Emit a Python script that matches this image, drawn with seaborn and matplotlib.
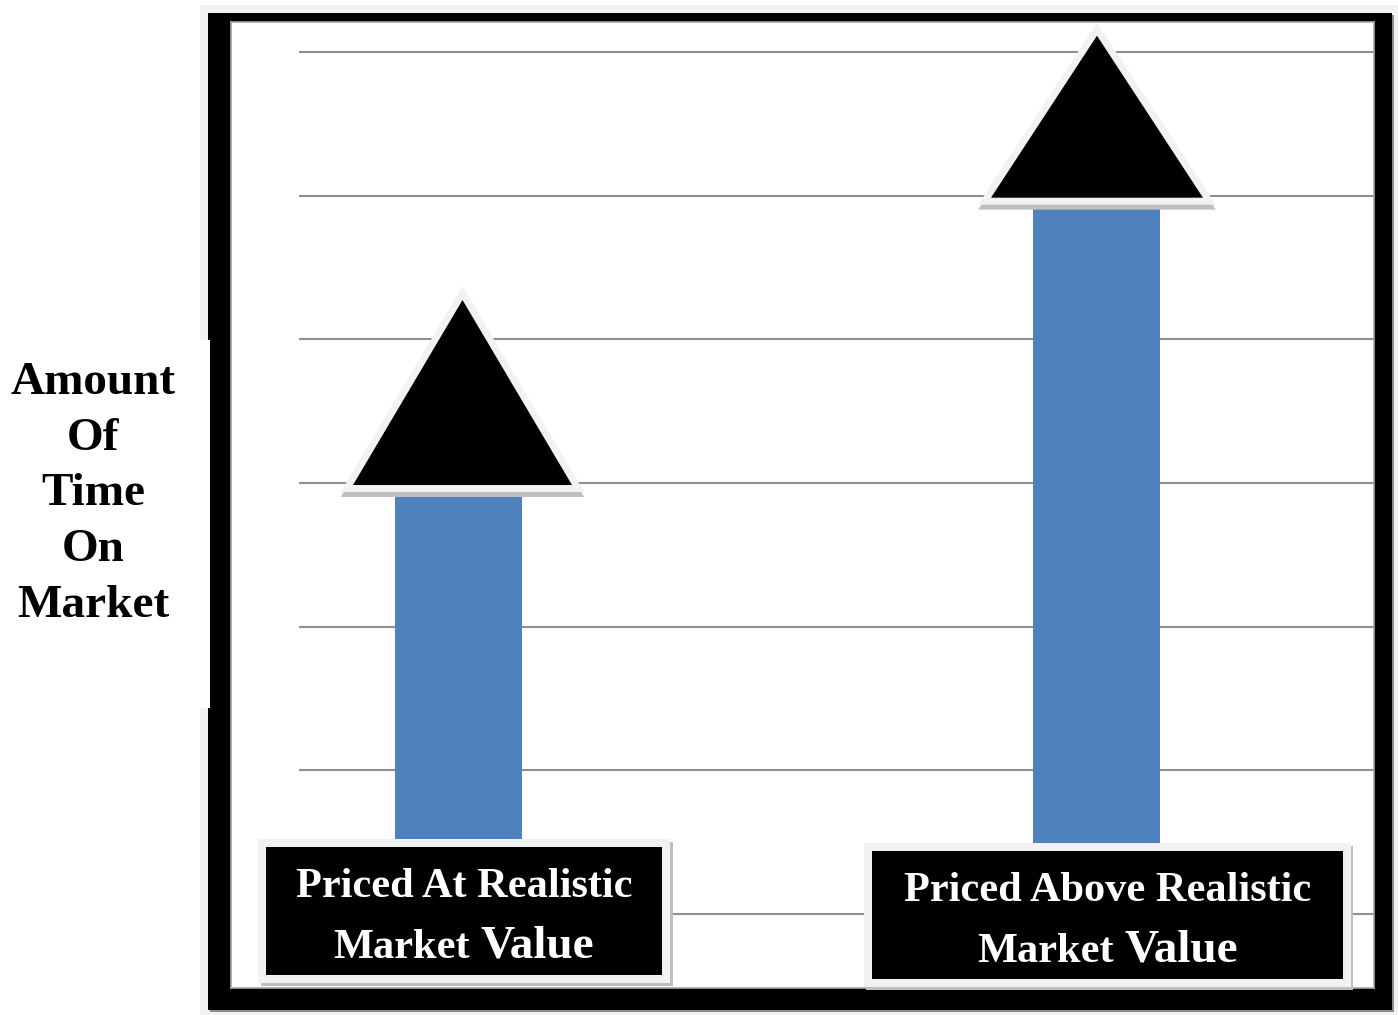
import matplotlib
matplotlib.use("Agg")
import matplotlib.pyplot as plt
import matplotlib.transforms as mtransforms
from matplotlib.patches import Rectangle, Polygon
import pandas as pd
import seaborn as sns

# ---- data -------------------------------------------------------------
categories = ["Priced At Realistic Market Value", "Priced Above Realistic Market Value"]
time_on_market = [3, 5]
label_line1 = ["Priced At Realistic", "Priced Above Realistic"]
label_line2_word1 = ["Market", "Market"]
label_line2_word2 = ["Value", "Value"]
y_label_lines = ["Amount", "Of", "Time", "On", "Market"]
grid_levels = [0, 1, 2, 3, 4, 5, 6]

# ---- style ------------------------------------------------------------
W, H, DPI = 1398, 1015, 100
BAR_BLUE = "#4F81BD"
LIGHT = "#F2F2F2"
SHADOW = "#BFBFBF"
GRID = "#8E8E8E"
BAR_WIDTH = 0.199
X_LIM = (-0.3566, 1.435)
Y_LIM = (-0.515, 6.209)
GRID_START = -0.25

# arrow heads (pixel sizes): half base width, height, horizontal nudge
TRI_HALF_PX = [109.5, 106.0]
TRI_HEIGHT_PX = [185.0, 162.0]
TRI_NUDGE_PX = [4.0, 0.5]
TRI_BASE_DROP_PX = 2.0

# label boxes (pixels relative to bar centre / zero line)
BOX_LEFT_PX = [-192.5, -224.5]
BOX_RIGHT_PX = [203.5, 246.5]
BOX_TOP_PX = [67.0, 63.0]
BOX_HEIGHT_PX = 128.0
BOX_RIM_PX = 8.0
LINE1_DROP_PX = 50.0
LINE2_DROP_PX = 110.5
LINE1_PT = 30.5
WORD1_PT = 30.5
WORD2_PT = 34.0

sns.set_style("white")
plt.rcParams["font.family"] = ["Liberation Serif", "DejaVu Serif"]

fig = plt.figure(figsize=(W / DPI, H / DPI), dpi=DPI)
fig.patch.set_facecolor("white")


def fx(x):
    return x / W


def fy(y):
    return 1 - y / H


def frame_rect(x0, y0, x1, y1, color, z):
    fig.add_artist(Rectangle((fx(x0), fy(y1)), fx(x1) - fx(x0), fy(y0) - fy(y1),
                             transform=fig.transFigure, facecolor=color,
                             edgecolor="none", zorder=z))


# outer frame
frame_rect(200, 5, 1398, 1015, LIGHT, -5)
frame_rect(210, 15, 1394, 1012, "#8C8C8C", -4)
frame_rect(208, 13, 1392, 1010, "black", -3)
frame_rect(195, 340, 210, 708, "white", -2)

ax = fig.add_axes([fx(231), fy(988), fx(1374) - fx(231), fy(22) - fy(988)])
ax.set_facecolor("white")

df = pd.DataFrame({"category": categories, "time_on_market": time_on_market})
sns.barplot(data=df, x="category", y="time_on_market", color=BAR_BLUE,
            saturation=1, width=BAR_WIDTH, linewidth=0, ax=ax, zorder=2)
ax.set_xlim(*X_LIM)
ax.set_ylim(*Y_LIM)
ax.hlines(grid_levels, GRID_START, X_LIM[1], color=GRID, lw=1.5, zorder=1)
ax.set_xticks([])
ax.set_yticks([])
ax.set_xlabel("")
ax.set_ylabel("")
for sp in ax.spines.values():
    sp.set_color("#A6A6A6")
    sp.set_linewidth(1.2)

p0 = ax.transData.transform((0, 0))
p1 = ax.transData.transform((1, 1))
px_x = p1[0] - p0[0]
px_y = p1[1] - p0[1]

# arrow heads on top of each bar
tri_shadow = mtransforms.offset_copy(ax.transData, fig=fig, x=0, y=-5, units="dots")
for i, v in enumerate(time_on_market):
    cx = i + TRI_NUDGE_PX[i] / px_x
    hw = TRI_HALF_PX[i] / px_x
    base = v - TRI_BASE_DROP_PX / px_y
    top = base + TRI_HEIGHT_PX[i] / px_y
    verts = [(cx - hw, base), (cx + hw, base), (cx, top)]
    ax.add_patch(Polygon(verts, closed=True, facecolor=SHADOW, edgecolor=SHADOW,
                         lw=10, joinstyle="miter", transform=tri_shadow,
                         zorder=3, clip_on=False))
    ax.add_patch(Polygon(verts, closed=True, facecolor=LIGHT, edgecolor=LIGHT,
                         lw=10, joinstyle="miter", zorder=3.1, clip_on=False))
    ax.add_patch(Polygon(verts, closed=True, facecolor="black", edgecolor="none",
                         lw=0, zorder=3.2, clip_on=False))

# category label boxes
box_shadow = mtransforms.offset_copy(ax.transData, fig=fig, x=2.5, y=-3, units="dots")
word_texts = []
for i in range(len(categories)):
    x0 = i + BOX_LEFT_PX[i] / px_x
    x1 = i + BOX_RIGHT_PX[i] / px_x
    ytop = BOX_TOP_PX[i] / px_y
    ybot = ytop - BOX_HEIGHT_PX / px_y
    rx = BOX_RIM_PX / px_x
    ry = BOX_RIM_PX / px_y
    for tr, col, z in ((box_shadow, SHADOW, 5), (ax.transData, LIGHT, 5.1)):
        ax.add_patch(Rectangle((x0 - rx, ybot - ry), (x1 - x0) + 2 * rx,
                               (ytop - ybot) + 2 * ry, facecolor=col,
                               edgecolor="none", transform=tr, zorder=z,
                               clip_on=False))
    ax.add_patch(Rectangle((x0, ybot), x1 - x0, ytop - ybot, facecolor="black",
                           edgecolor="none", zorder=5.2, clip_on=False))
    cx = (x0 + x1) / 2
    ax.text(cx, ytop - LINE1_DROP_PX / px_y, label_line1[i], ha="center",
            va="baseline", color="white", fontsize=LINE1_PT, fontweight="bold",
            zorder=6)
    y2 = ytop - LINE2_DROP_PX / px_y
    t1 = ax.text(cx, y2, label_line2_word1[i], ha="left", va="baseline",
                 color="white", fontsize=WORD1_PT, fontweight="bold", zorder=6)
    t2 = ax.text(cx, y2, label_line2_word2[i], ha="left", va="baseline",
                 color="white", fontsize=WORD2_PT, fontweight="bold", zorder=6)
    word_texts.append((cx, y2, t1, t2))

# centre the two-size second line of each label
fig.canvas.draw()
renderer = fig.canvas.get_renderer()
gap = 0.25 * WORD1_PT * DPI / 72
for cx, y2, t1, t2 in word_texts:
    w1 = t1.get_window_extent(renderer).width
    w2 = t2.get_window_extent(renderer).width
    cx_px = ax.transData.transform((cx, y2))[0]
    start = cx_px - (w1 + gap + w2) / 2
    inv = ax.transData.inverted()
    t1.set_x(inv.transform((start, 0))[0])
    t2.set_x(inv.transform((start + w1 + gap, 0))[0])

# vertical axis caption, stacked word by word (anchored on the last line)
fig.text(fx(93), fy(617), "\n".join(y_label_lines), ha="center", va="baseline",
         multialignment="center", fontsize=34, fontweight="bold",
         linespacing=1.43, color="black")

fig.savefig("out.png", dpi=DPI)
